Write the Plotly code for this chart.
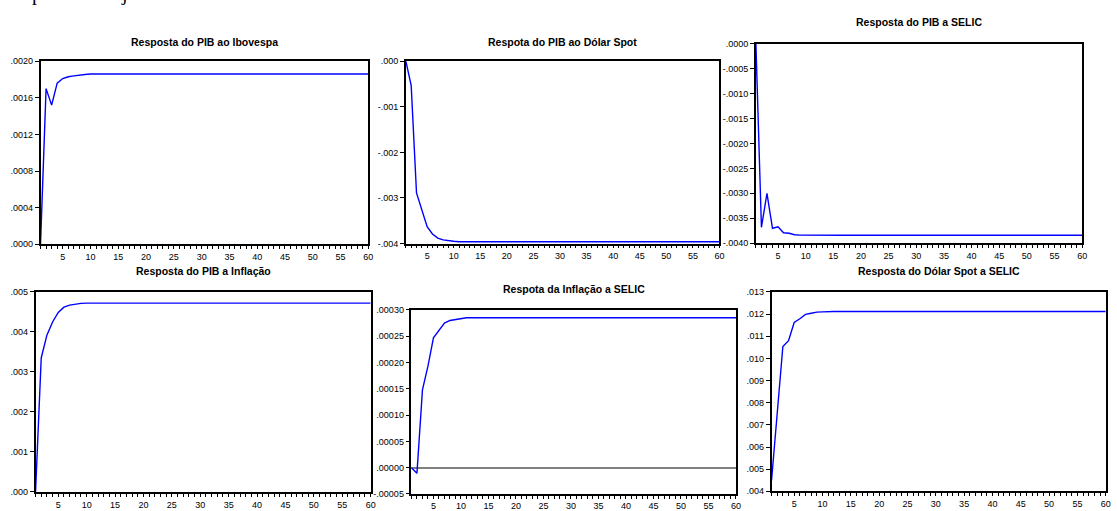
import plotly.graph_objects as go

W, H = 1117, 511

periods = list(range(1, 61))

pib_ibovespa = [0.0, 0.00170, 0.00152, 0.00176, 0.00181, 0.00183, 0.00184, 0.00185, 0.001855] + [0.00186] * 51
pib_dolar = [0.0, -0.000536, -0.00289, -0.00327, -0.00363, -0.00379, -0.00388, -0.00392, -0.00394, -0.00395] + [-0.00396] * 50
pib_selic = [0.0, -0.00368, -0.00300, -0.00370, -0.00367, -0.00379, -0.00380, -0.00383, -0.003838] + [-0.00384] * 51
pib_inflacao = [0.0, 0.00335, 0.00392, 0.00425, 0.00449, 0.00462, 0.00467, 0.00470, 0.004714] + [0.004722] * 51
inflacao_selic = [0.0, -0.0000106, 0.000148, 0.000193, 0.000247, 0.000261, 0.000275, 0.000280, 0.000282, 0.000284] + [0.000285] * 50
dolar_selic = [0.00449, 0.00740, 0.01054, 0.01080, 0.01162, 0.01179, 0.01199, 0.01204, 0.01209, 0.01210] + [0.01212] * 50

titles = [
    "Resposta do PIB ao Ibovespa",
    "Respota do PIB ao Dólar Spot",
    "Resposta do PIB a SELIC",
    "Resposta do PIB a Inflação",
    "Respota da Inflação a SELIC",
    "Resposta do Dólar Spot a SELIC",
]
series = [pib_ibovespa, pib_dolar, pib_selic, pib_inflacao, inflacao_selic, dolar_selic]

ytick_vals = [
    [0.0, 0.0004, 0.0008, 0.0012, 0.0016, 0.0020],
    [-0.004, -0.003, -0.002, -0.001, 0.0],
    [-0.0040, -0.0035, -0.0030, -0.0025, -0.0020, -0.0015, -0.0010, -0.0005, 0.0],
    [0.0, 0.001, 0.002, 0.003, 0.004, 0.005],
    [-0.00005, 0.0, 0.00005, 0.00010, 0.00015, 0.00020, 0.00025, 0.00030],
    [0.004, 0.005, 0.006, 0.007, 0.008, 0.009, 0.010, 0.011, 0.012, 0.013],
]
ytick_text = [
    [".0000", ".0004", ".0008", ".0012", ".0016", ".0020"],
    ["-.004", "-.003", "-.002", "-.001", ".000"],
    ["-.0040", "-.0035", "-.0030", "-.0025", "-.0020", "-.0015", "-.0010", "-.0005", ".0000"],
    [".000", ".001", ".002", ".003", ".004", ".005"],
    ["-.00005", ".00000", ".00005", ".00010", ".00015", ".00020", ".00025", ".00030"],
    [".004", ".005", ".006", ".007", ".008", ".009", ".010", ".011", ".012", ".013"],
]

xtick_vals = periods
xtick_text = [str(p) if p % 5 == 0 else "" for p in periods]

# pixel boxes: (left, right, top, bottom)
boxes = [
    (40.7, 370.0, 57.3, 244.0),
    (407.7, 722.7, 57.3, 243.3),
    (759.3, 1087.0, 39.3, 243.0),
    (35.7, 372.3, 292.7, 496.7),
    (413.3, 739.3, 311.0, 498.7),
    (775.0, 1110.7, 292.7, 496.0),
]
title_y = [37.3, 37.3, 17.0, 271.0, 290.0, 271.0]

fig = go.Figure()
font = "Liberation Sans, Arial, sans-serif"

for i, (ys, box) in enumerate(zip(series, boxes)):
    n = i + 1
    xa = "x" if n == 1 else f"x{n}"
    ya = "y" if n == 1 else f"y{n}"
    fig.add_trace(go.Scatter(x=periods, y=ys, mode="lines",
                             line=dict(color="#0000ff", width=1.4),
                             xaxis=xa, yaxis=ya, showlegend=False, hoverinfo="skip"))
    l, r, t, b = box
    xd = [l / W, r / W]
    yd = [1 - b / H, 1 - t / H]
    yv = ytick_vals[i]
    fig.update_layout(**{
        ("xaxis" if n == 1 else f"xaxis{n}"): dict(
            domain=xd, anchor=ya, range=[1, 60],
            tickmode="array", tickvals=xtick_vals, ticktext=xtick_text,
            ticks="outside", ticklen=3, tickwidth=1, tickcolor="black",
            showline=True, linecolor="black", linewidth=1.5, mirror=True,
            showgrid=False, zeroline=False,
            tickfont=dict(family=font, size=9, color="black"),
        ),
        ("yaxis" if n == 1 else f"yaxis{n}"): dict(
            domain=yd, anchor=xa, range=[yv[0], yv[-1]],
            tickmode="array", tickvals=yv, ticktext=ytick_text[i],
            ticks="outside", ticklen=4, tickwidth=1, tickcolor="black",
            showline=True, linecolor="black", linewidth=1.5, mirror=True,
            showgrid=False,
            zeroline=(n == 5), zerolinecolor="#808080", zerolinewidth=1.5,
            tickfont=dict(family=font, size=9, color="black"),
        ),
    })
    fig.add_annotation(text=f"<b>{titles[i]}</b>", xref="paper", yref="paper",
                       x=(l + r) / 2 / W, y=1 - title_y[i] / H,
                       xanchor="center", yanchor="middle", showarrow=False,
                       font=dict(family=font, size=10.5, color="black"))

fig.add_annotation(text="período de janeiro de 2003 a dezembro de 2010", xref="paper", yref="paper",
                   x=30 / W, y=1 - 2.5 / H, xanchor="left", yanchor="bottom", showarrow=False,
                   font=dict(family="Liberation Serif, Times New Roman, serif", size=20, color="black"))

fig.update_layout(width=W, height=H, margin=dict(l=0, r=0, t=0, b=0),
                  paper_bgcolor="white", plot_bgcolor="white")

fig.write_html("out.html")
